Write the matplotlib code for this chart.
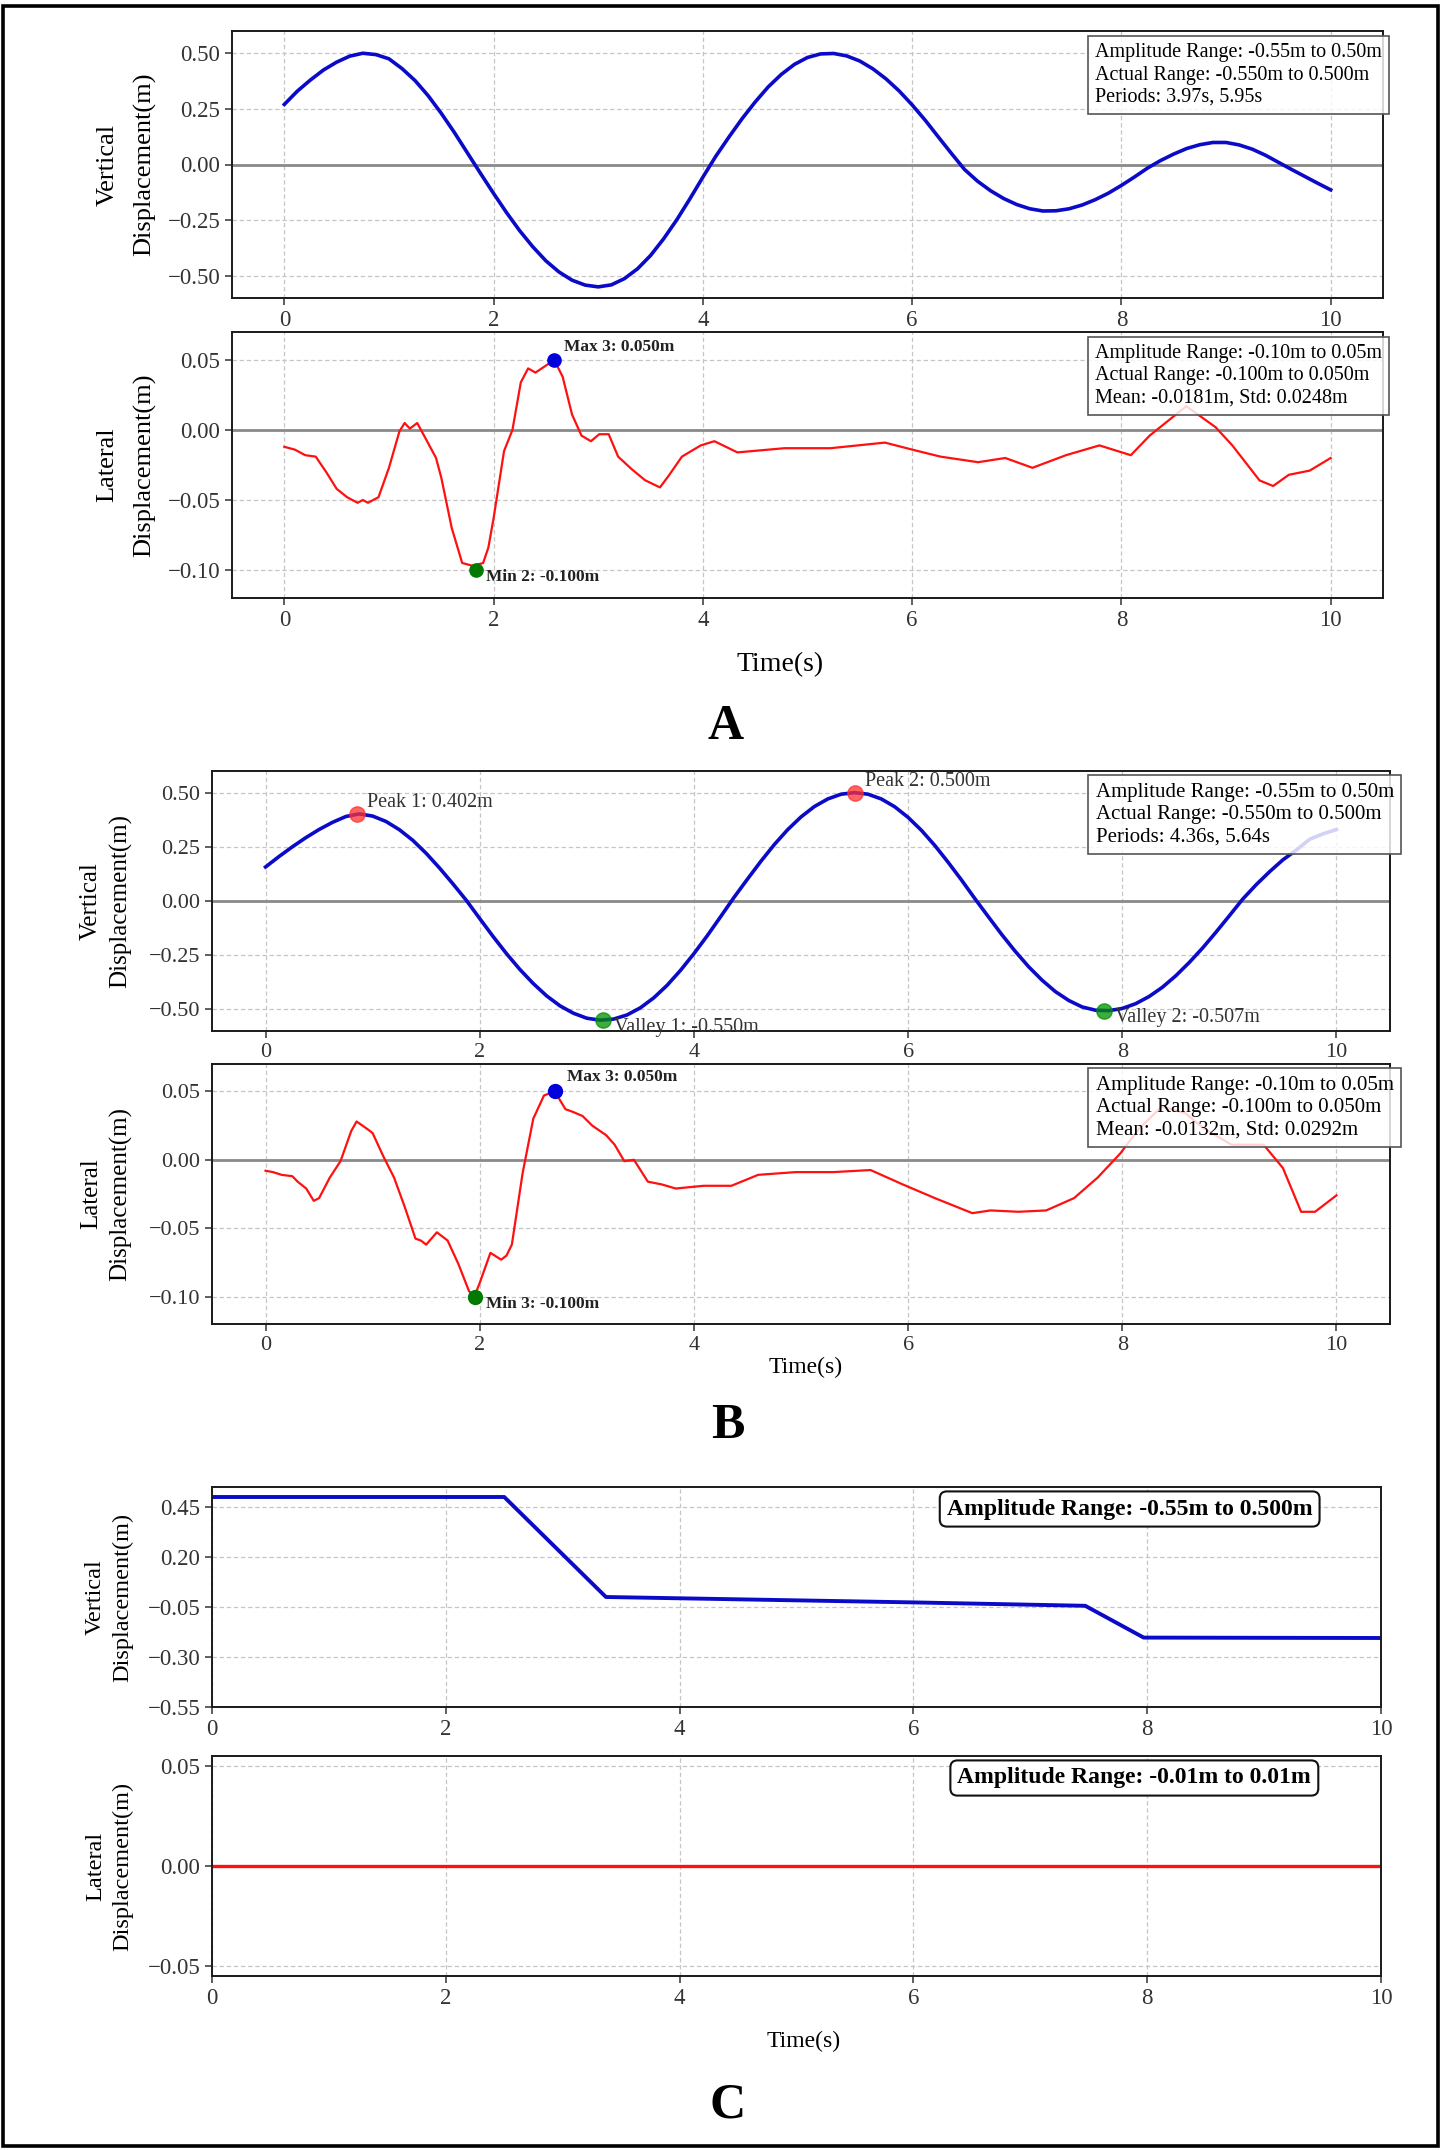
import numpy as np
import matplotlib
matplotlib.use("Agg")
import matplotlib.pyplot as plt
from matplotlib.patches import Rectangle

# ---------------- data ----------------
t_grid = np.arange(0, 10.001, 0.125)

# panel A  (one row per second)
a_vert = [0.27, 0.33, 0.38, 0.425, 0.46, 0.487, 0.50, 0.494,
          0.475, 0.431, 0.377, 0.309, 0.230, 0.144, 0.052, -0.040,
          -0.130, -0.217, -0.298, -0.370, -0.433, -0.483, -0.520, -0.542,
          -0.550, -0.541, -0.513, -0.469, -0.409, -0.334, -0.249, -0.155,
          -0.057, 0.038, 0.124, 0.206, 0.281, 0.349, 0.405, 0.450,
          0.481, 0.497, 0.499, 0.488, 0.465, 0.430, 0.385, 0.331,
          0.268, 0.199, 0.124, 0.050, -0.022, -0.075, -0.118, -0.153,
          -0.180, -0.199, -0.209, -0.208, -0.199, -0.182, -0.158, -0.129,
          -0.094, -0.056, -0.016, 0.018, 0.047, 0.072, 0.089, 0.099,
          0.099, 0.088, 0.069, 0.042, 0.010, -0.022, -0.053, -0.084,
          -0.114]

a_lat_t = [0, 0.1, 0.2, 0.3, 0.4, 0.5, 0.6, 0.7, 0.75, 0.8, 0.9, 1.0, 1.1, 1.15,
           1.2, 1.27, 1.35, 1.45, 1.5, 1.6, 1.7, 1.8, 1.9, 1.95, 2.0, 2.1, 2.18,
           2.26, 2.33, 2.4, 2.48, 2.58, 2.66, 2.75, 2.84, 2.93, 3.01, 3.1, 3.19,
           3.32, 3.45, 3.59, 3.67, 3.8, 3.98, 4.11, 4.33, 4.78, 5.22, 5.74, 6.0,
           6.27, 6.63, 6.89, 7.15, 7.47, 7.79, 8.09, 8.27, 8.62, 8.9, 9.06, 9.32,
           9.45, 9.6, 9.8, 10]
a_lat = [-0.012, -0.014, -0.018, -0.019, -0.030, -0.042, -0.048, -0.052, -0.050,
         -0.052, -0.048, -0.027, -0.001, 0.005, 0.001, 0.005, -0.006, -0.020,
         -0.034, -0.070, -0.095, -0.097, -0.095, -0.084, -0.063, -0.015, 0.000,
         0.034, 0.044, 0.041, 0.045, 0.050, 0.038, 0.011, -0.004, -0.008, -0.003,
         -0.003, -0.019, -0.028, -0.036, -0.041, -0.033, -0.019, -0.011, -0.008,
         -0.016, -0.013, -0.013, -0.009, -0.014, -0.019, -0.023, -0.020, -0.027,
         -0.018, -0.011, -0.018, -0.004, 0.017, 0.002, -0.011, -0.036, -0.040,
         -0.032, -0.029, -0.020]
a_max = (2.58, 0.050)
a_min = (1.83, -0.100)

# panel B  (one row per second)
b_vert = [0.157, 0.205, 0.25, 0.292, 0.33, 0.363, 0.39, 0.402,
          0.392, 0.367, 0.329, 0.280, 0.220, 0.152, 0.079, 0.003,
          -0.081, -0.164, -0.243, -0.316, -0.381, -0.438, -0.484, -0.518,
          -0.541, -0.550, -0.545, -0.526, -0.493, -0.447, -0.389, -0.320,
          -0.243, -0.160, -0.072, 0.017, 0.101, 0.183, 0.260, 0.329,
          0.388, 0.436, 0.471, 0.493, 0.500, 0.493, 0.471, 0.435,
          0.386, 0.326, 0.256, 0.178, 0.096, 0.010, -0.073, -0.155,
          -0.232, -0.303, -0.365, -0.418, -0.459, -0.489, -0.504, -0.506,
          -0.496, -0.474, -0.441, -0.398, -0.345, -0.284, -0.217, -0.144,
          -0.068, 0.009, 0.075, 0.135, 0.19, 0.235, 0.285, 0.31,
          0.33]
b_peaks = [(0.85, 0.402), (5.50, 0.500)]
b_valleys = [(3.15, -0.550), (7.83, -0.507)]

b_lat_t = [0, 0.07, 0.15, 0.25, 0.3, 0.38, 0.45, 0.5, 0.6, 0.7, 0.8, 0.85, 0.95,
           1.0, 1.1, 1.2, 1.3, 1.4, 1.45, 1.5, 1.6, 1.7, 1.8, 1.9, 1.95, 2.0, 2.1,
           2.2, 2.25, 2.3, 2.4, 2.5, 2.6, 2.7, 2.8, 2.87, 2.96, 3.05, 3.18, 3.26,
           3.35, 3.44, 3.57, 3.7, 3.83, 4.09, 4.35, 4.6, 4.95, 5.3, 5.65, 5.95,
           6.25, 6.6, 6.77, 7.03, 7.29, 7.55, 7.77, 7.98, 8.16, 8.37, 8.59, 8.76,
           9.02, 9.32, 9.5, 9.67, 9.8, 10]
b_lat = [-0.008, -0.009, -0.011, -0.012, -0.016, -0.021, -0.030, -0.028, -0.013,
         -0.001, 0.021, 0.028, 0.0225, 0.0195, 0.0025, -0.013, -0.0345, -0.0576,
         -0.059, -0.062, -0.053, -0.059, -0.076, -0.096, -0.100, -0.090, -0.068,
         -0.073, -0.070, -0.062, -0.010, 0.030, 0.047, 0.050, 0.037, 0.035, 0.032,
         0.025, 0.018, 0.011, -0.001, 0.000, -0.016, -0.018, -0.021, -0.019,
         -0.019, -0.011, -0.009, -0.009, -0.0075, -0.018, -0.028, -0.039, -0.037,
         -0.038, -0.037, -0.028, -0.013, 0.0045, 0.023, 0.039, 0.034, 0.023, 0.011,
         0.011, -0.006, -0.038, -0.038, -0.026]
b_max = (2.70, 0.050)
b_min = (1.96, -0.100)

# panel C
c_vert_t = [0, 2.5, 3.37, 6.0, 7.47, 7.97, 10]
c_vert = [0.50, 0.50, 0.0, -0.027, -0.044, -0.203, -0.205]
c_lat_t = [0, 10]
c_lat = [0.0, 0.0]

box_a1 = "Amplitude Range: -0.55m to 0.50m\nActual Range: -0.550m to 0.500m\nPeriods: 3.97s, 5.95s"
box_a2 = "Amplitude Range: -0.10m to 0.05m\nActual Range: -0.100m to 0.050m\nMean: -0.0181m, Std: 0.0248m"
box_b1 = "Amplitude Range: -0.55m to 0.50m\nActual Range: -0.550m to 0.500m\nPeriods: 4.36s, 5.64s"
box_b2 = "Amplitude Range: -0.10m to 0.05m\nActual Range: -0.100m to 0.050m\nMean: -0.0132m, Std: 0.0292m"
box_c1 = "Amplitude Range: -0.55m to 0.500m"
box_c2 = "Amplitude Range: -0.01m to 0.01m"

# ---------------- figure ----------------
plt.rcParams['font.family'] = ['Liberation Serif', 'DejaVu Serif']

W, H = 1446, 2150
fig = plt.figure(figsize=(W / 100, H / 100), dpi=100)

BLUE = '#0a0ac8'
RED = '#ff1010'


def add_ax(l, t, r, b):
    return fig.add_axes([l / W, 1 - b / H, (r - l) / W, (b - t) / H])


def style(ax, tsize):
    ax.grid(True, linestyle=(0, (3.5, 2.2)), color='#c6c6c6', lw=0.9)
    ax.set_axisbelow(True)
    for s in ax.spines.values():
        s.set_linewidth(1.4)
        s.set_color('#1a1a1a')
    ax.tick_params(labelsize=tsize, length=5, width=1.1, color='#333', labelcolor='#333')
    ax.set_xticks([0, 2, 4, 6, 8, 10])


def info_box(ax, s, size):
    ax.text(0.75, 0.955, s, transform=ax.transAxes, ha='left', va='top',
            fontsize=size, linespacing=1.25, zorder=6,
            bbox=dict(boxstyle='square,pad=0.35', facecolor=(1, 1, 1, 0.82),
                      edgecolor='#555', lw=1.2))


def bold_note(ax, pt, s, dx, dy):
    ax.annotate(s, pt, xytext=(dx, dy), textcoords='offset pixels', ha='left',
                va='center', fontsize=12.5, fontweight='bold', color='#222', zorder=6)


# ----- A -----
ax = add_ax(232, 31, 1383, 298)
style(ax, 16.5)
ax.axhline(0, color='#8a8a8a', lw=2, zorder=1.5)
ax.plot(t_grid, a_vert, color=BLUE, lw=2.6)
ax.set_xlim(-0.5, 10.5)
ax.set_ylim(-0.6, 0.6)
ax.set_yticks([-0.5, -0.25, 0, 0.25, 0.5])
ax.set_ylabel("Vertical\nDisplacement(m)", fontsize=19, linespacing=1.85, labelpad=8)
info_box(ax, box_a1, 14.5)

ax = add_ax(232, 332, 1383, 598)
style(ax, 16.5)
ax.axhline(0, color='#8a8a8a', lw=2, zorder=1.5)
ax.plot(a_lat_t, a_lat, color=RED, lw=1.6)
ax.plot(*a_max, 'o', color='#0000dd', ms=9.5, zorder=5)
ax.plot(*a_min, 'o', color='#007a00', ms=9.5, zorder=5)
bold_note(ax, a_max, "Max 3: 0.050m", 10, 13)
bold_note(ax, a_min, "Min 2: -0.100m", 10, -7)
ax.set_xlim(-0.5, 10.5)
ax.set_ylim(-0.12, 0.07)
ax.set_yticks([-0.10, -0.05, 0, 0.05])
ax.set_ylabel("Lateral\nDisplacement(m)", fontsize=19, linespacing=1.85, labelpad=8)
info_box(ax, box_a2, 14.5)

fig.text(780 / W, 1 - 665 / H, "Time(s)", fontsize=20, ha='center', va='center')
fig.text(726 / W, 1 - 727 / H, "A", fontsize=36, fontweight='bold', ha='center', va='center')

# ----- B -----
ax = add_ax(212, 771, 1390, 1031)
style(ax, 16)
ax.axhline(0, color='#8a8a8a', lw=2, zorder=1.5)
ax.plot(t_grid, b_vert, color=BLUE, lw=2.6)
for i, p in enumerate(b_peaks):
    ax.plot(*p, 'o', color='#ff3030', alpha=0.75, ms=11, zorder=5)
    ax.annotate("Peak %d: %.3fm" % (i + 1, p[1]), p, xytext=(10, 11),
                textcoords='offset pixels', ha='left', va='center', fontsize=14.5,
                color='#333', zorder=6)
for i, p in enumerate(b_valleys):
    ax.plot(*p, 'o', color='#009000', alpha=0.75, ms=11, zorder=5)
    ax.annotate("Valley %d: %.3fm" % (i + 1, p[1]), p, xytext=(11, -7),
                textcoords='offset pixels', ha='left', va='center', fontsize=14.5,
                color='#333', zorder=6)
ax.set_xlim(-0.5, 10.5)
ax.set_ylim(-0.6, 0.6)
ax.set_yticks([-0.5, -0.25, 0, 0.25, 0.5])
ax.set_ylabel("Vertical\nDisplacement(m)", fontsize=18, linespacing=1.4, labelpad=12)
info_box(ax, box_b1, 15)

ax = add_ax(212, 1064, 1390, 1324)
style(ax, 16)
ax.axhline(0, color='#8a8a8a', lw=2, zorder=1.5)
ax.plot(b_lat_t, b_lat, color=RED, lw=1.6)
ax.plot(*b_max, 'o', color='#0000dd', ms=10, zorder=5)
ax.plot(*b_min, 'o', color='#007a00', ms=10, zorder=5)
bold_note(ax, b_max, "Max 3: 0.050m", 12, 14)
bold_note(ax, b_min, "Min 3: -0.100m", 11, -7)
ax.set_xlim(-0.5, 10.5)
ax.set_ylim(-0.12, 0.07)
ax.set_yticks([-0.10, -0.05, 0, 0.05])
ax.set_ylabel("Lateral\nDisplacement(m)", fontsize=18, linespacing=1.4, labelpad=12)
info_box(ax, box_b2, 15)

fig.text(806 / W, 1 - 1367 / H, "Time(s)", fontsize=17, ha='center', va='center')
fig.text(728 / W, 1 - 1426 / H, "B", fontsize=36, fontweight='bold', ha='center', va='center')

# ----- C -----
ax = add_ax(212, 1487, 1381, 1707)
style(ax, 16.5)
ax.plot(c_vert_t, c_vert, color=BLUE, lw=2.8)
ax.set_xlim(0, 10)
ax.set_ylim(-0.55, 0.55)
ax.set_yticks([-0.55, -0.30, -0.05, 0.20, 0.45])
ax.set_ylabel("Vertical\nDisplacement(m)", fontsize=17.5, linespacing=1.4, labelpad=10)
ax.text(0.785, 0.90, box_c1, transform=ax.transAxes, ha='center', va='center',
        fontsize=17, fontweight='bold', zorder=6,
        bbox=dict(boxstyle='round,pad=0.3', facecolor='white', edgecolor='#111', lw=1.5))

ax = add_ax(212, 1756, 1381, 1976)
style(ax, 16.5)
ax.plot(c_lat_t, c_lat, color=RED, lw=2.4)
ax.set_xlim(0, 10)
ax.set_ylim(-0.055, 0.055)
ax.set_yticks([-0.05, 0, 0.05])
ax.set_ylabel("Lateral\nDisplacement(m)", fontsize=17.5, linespacing=1.4, labelpad=10)
ax.text(0.789, 0.90, box_c2, transform=ax.transAxes, ha='center', va='center',
        fontsize=17, fontweight='bold', zorder=6,
        bbox=dict(boxstyle='round,pad=0.3', facecolor='white', edgecolor='#111', lw=1.5))

fig.text(804 / W, 1 - 2041 / H, "Time(s)", fontsize=17, ha='center', va='center')
fig.text(728 / W, 1 - 2105 / H, "C", fontsize=36, fontweight='bold', ha='center', va='center')

# outer frame
fig.patches.append(Rectangle((3 / W, 1 - 2146 / H), 1435 / W, 2140 / H,
                             transform=fig.transFigure, fill=False,
                             edgecolor='black', lw=2.6))

fig.savefig("out.png", dpi=100)
